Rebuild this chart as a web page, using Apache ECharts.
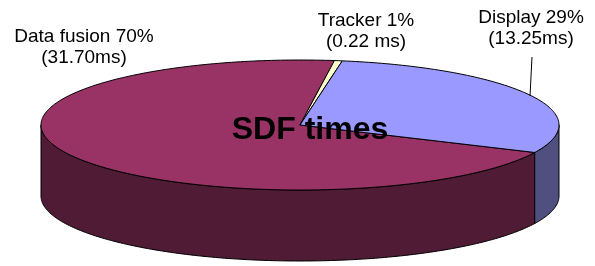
<!DOCTYPE html>
<html>
<head>
<meta charset="utf-8">
<script src="https://cdn.jsdelivr.net/npm/echarts@6/dist/echarts.min.js"></script>
<style>
  html, body { margin: 0; padding: 0; background: #fff; }
  #sdf { width: 595px; height: 266px; }
</style>
</head>
<body>
<div id="sdf"></div>
<script>
// slices, clockwise from the lower right
var names = ['Data fusion', 'Tracker', 'Display'];
var shares = [70, 1, 29];
var times = ['31.70ms', '0.22 ms', '13.25ms'];
var values = [31.70, 0.22, 13.25];

var topColors = ['#993366', '#ffffcc', '#9999ff'];
var sideColors = ['#4f1b35', '#80806a', '#4f5080'];

// ellipse layout (px)
var cx = 300, cy = 125, rx = 259, ry = 65, depth = 71, startDeg = 25;

var total = values.reduce(function (a, b) { return a + b; }, 0);

function pt(deg, dy) {
    var r = deg * Math.PI / 180;
    return [cx + rx * Math.cos(r), cy + ry * Math.sin(r) + (dy || 0)];
}
function arc(a1, a2, dy) {
    var pts = [], n = Math.max(2, Math.ceil(Math.abs(a2 - a1)));
    for (var i = 0; i <= n; i++) pts.push(pt(a1 + (a2 - a1) * i / n, dy));
    return pts;
}

function renderSlice(params, api) {
    var idx = params.dataIndex;
    var a1 = startDeg;
    for (var i = 0; i < idx; i++) a1 += values[i] / total * 360;
    var a2 = a1 + api.value(0) / total * 360;
    var children = [];
    // front wall: parts of the slice inside [0,180] or [360,540]
    [0, 360].forEach(function (k) {
        var lo = Math.max(a1, k), hi = Math.min(a2, k + 180);
        if (hi > lo) {
            var pts = arc(lo, hi, 0).concat(arc(hi, lo, depth));
            children.push({
                type: 'polygon', z2: 1,
                shape: {points: pts},
                style: {fill: sideColors[idx], stroke: '#000', lineWidth: 1}
            });
        }
    });
    children.push({
        type: 'polygon', z2: 2,
        shape: {points: [[cx, cy]].concat(arc(a1, a2, 0))},
        style: {fill: topColors[idx], stroke: '#000', lineWidth: 1}
    });
    return {type: 'group', children: children};
}

// label anchors: centre x, middle y between the two lines
var labelPos = [[84, 47], [366, 31], [531, 28]];

var graphics = names.map(function (n, i) {
    return {
        type: 'text', x: labelPos[i][0], y: labelPos[i][1], z: 10,
        style: {
            text: n + ' ' + shares[i] + '%\n(' + times[i] + ')',
            font: '19px "Liberation Sans", Arial, sans-serif',
            lineHeight: 21,
            fill: '#000',
            align: 'center',
            verticalAlign: 'middle'
        }
    };
});
// leader line for Display
graphics.push({
    type: 'line', z: 10,
    shape: {x1: 532, y1: 57, x2: 530, y2: 96},
    style: {stroke: '#000', lineWidth: 1}
});
graphics.push({
    type: 'text', x: 310, y: 130, z: 10,
    style: {
        text: 'SDF times',
        font: 'bold 32px "Liberation Sans", Arial, sans-serif',
        fill: '#000',
        align: 'center',
        verticalAlign: 'middle'
    }
});

var chart = echarts.init(document.getElementById('sdf'));
var option = {
    animation: false,
    graphic: graphics,
    series: [
        {
            type: 'custom',
            coordinateSystem: 'none',
            renderItem: renderSlice,
            data: values.map(function (v) { return [v]; })
        }
    ]
};
chart.setOption(option);
</script>
</body>
</html>
